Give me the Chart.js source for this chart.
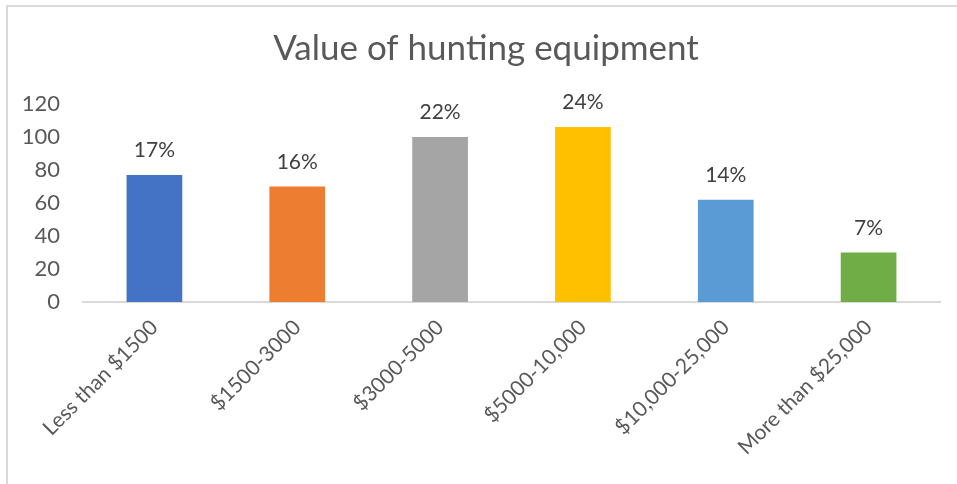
<!DOCTYPE html>
<html>
<head>
<meta charset="utf-8">
<script src="https://cdn.jsdelivr.net/npm/chart.js@4.4.1/dist/chart.umd.min.js"></script>
<style>
    html, body { margin: 0; padding: 0; background: #fff; }
    #wrap { position: relative; width: 957px; height: 484px; overflow: hidden; }
    #frame { position: absolute; left: 6px; top: 5px; width: 1000px; height: 600px;
             border-left: 2px solid #d9d9d9; border-top: 2px solid #d9d9d9; }
    #chart { position: absolute; left: 0; top: 0; }
</style>
</head>
<body>
<div id="wrap">
    <div id="frame"></div>
    <canvas id="chart" width="957" height="484"></canvas>
</div>
<script>
const categories = ['Less than $1500', '$1500-3000', '$3000-5000', '$5000-10,000', '$10,000-25,000', 'More than $25,000'];
const counts = [77, 70, 100, 106, 62, 30];
const percentLabels = ['17%', '16%', '22%', '24%', '14%', '7%'];
const barColors = ['#4472C4', '#ED7D31', '#A5A5A5', '#FFC000', '#5B9BD5', '#70AD47'];
const yTicks = [0, 20, 40, 60, 80, 100, 120];

const FONT = 'Lato, "Open Sans", sans-serif';

// percentage labels above each bar
const barLabels = {
    id: 'barLabels',
    afterLayout(chart) {
        // nudge the title a bit to the right, like the original
        if (chart.titleBlock) chart.titleBlock.left += 22;
    },
    afterDatasetsDraw(chart) {
        const ctx = chart.ctx;
        const meta = chart.getDatasetMeta(0);
        ctx.save();
        ctx.font = '21px ' + FONT;
        ctx.fillStyle = '#404040';
        ctx.textAlign = 'center';
        ctx.textBaseline = 'alphabetic';
        meta.data.forEach((bar, i) => {
            ctx.fillText(percentLabels[i], bar.x, bar.y - 18);
        });
        ctx.restore();
    }
};

const ctx = document.getElementById('chart').getContext('2d');
window.myChart = new Chart(ctx, {
    type: 'bar',
    data: {
        labels: categories,
        datasets: [{
            data: counts,
            backgroundColor: barColors,
            borderWidth: 0,
            categoryPercentage: 1,
            barPercentage: 0.39
        }]
    },
    options: {
        responsive: false,
        animation: false,
        layout: {
            padding: { left: 10, right: 17, top: 28, bottom: 0 }
        },
        plugins: {
            legend: { display: false },
            tooltip: { enabled: false },
            title: {
                display: true,
                text: 'Value of hunting equipment',
                color: '#595959',
                font: { family: FONT, size: 35, weight: 'normal' },
                padding: { top: 0, bottom: 34 }
            }
        },
        scales: {
            x: {
                grid: { display: false },
                border: { display: true, color: '#d9d9d9', width: 2 },
                ticks: {
                    color: '#595959',
                    font: { family: FONT, size: 21 },
                    minRotation: 45,
                    maxRotation: 45,
                    padding: 5
                },
                afterFit(scale) { scale.height = 182; }
            },
            y: {
                min: 0,
                max: 120,
                grid: { display: false, drawTicks: false },
                border: { display: false },
                afterBuildTicks(scale) { scale.ticks = yTicks.map(v => ({ value: v })); },
                ticks: {
                    color: '#595959',
                    font: { family: FONT, size: 22 },
                    padding: 23
                },
                afterFit(scale) { scale.width = 73; }
            }
        }
    },
    plugins: [barLabels]
});
</script>
</body>
</html>
